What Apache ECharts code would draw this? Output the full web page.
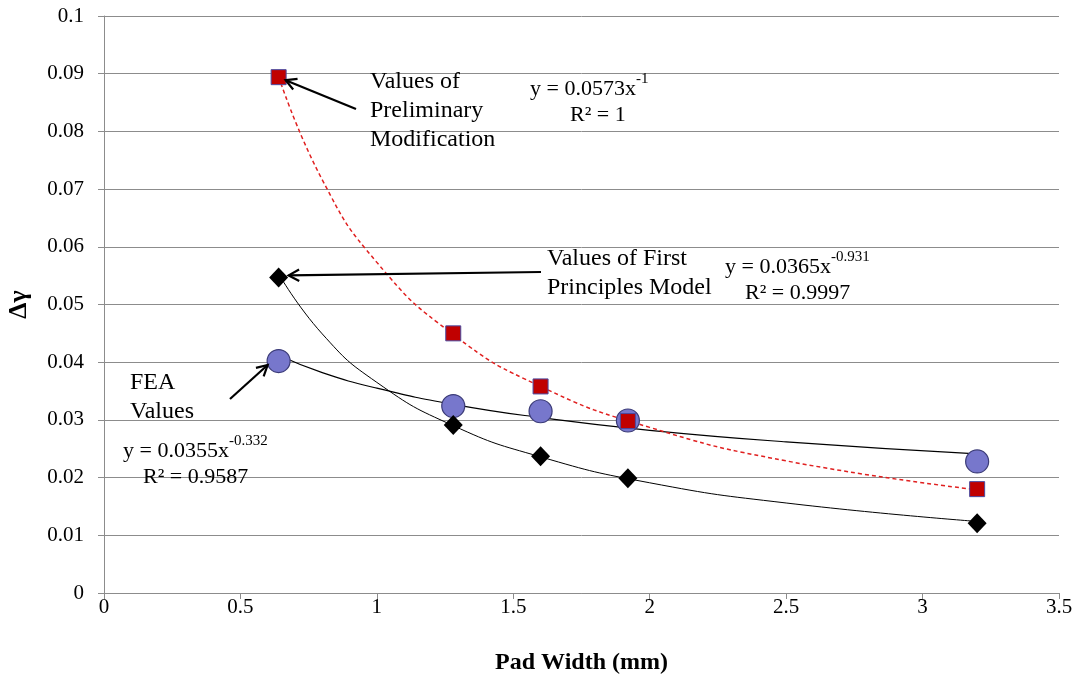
<!DOCTYPE html>
<html><head><meta charset="utf-8">
<script src="https://cdn.jsdelivr.net/npm/echarts@6/dist/echarts.min.js"></script>
<style>html,body{margin:0;padding:0;background:#fff}#c{width:1076px;height:676px}</style>
</head><body><div id="c"></div>
<script>
// Data
const padWidth = [0.64, 1.28, 1.6, 1.92, 3.2];
const prelimValues = [0.0894, 0.0450, 0.0358, 0.0298, 0.0180];
const firstPrincValues = [0.0547, 0.0291, 0.0237, 0.0199, 0.0121];
const feaValues = [0.0402, 0.0324, 0.0315, 0.0299, 0.0228];
// Trendline points
const trendX = [0.64, 0.8, 1.0, 1.28, 1.6, 2.0, 2.5, 3.2];
const prelimTrend = [0.0895, 0.0716, 0.0573, 0.0448, 0.0358, 0.0287, 0.0229, 0.0179];
const firstPrincTrend = [0.0553, 0.0449, 0.0365, 0.0290, 0.0236, 0.0191, 0.0156, 0.0124];
const feaTrend = [0.0412, 0.0382, 0.0355, 0.0327, 0.0304, 0.0282, 0.0262, 0.0241];

const pairs = (xs, ys) => xs.map((x, i) => [x, ys[i]]);
const serif = '"Liberation Serif", "Times New Roman", serif';
const chart = echarts.init(document.getElementById('c'));
const gridColor = '#8c8c8c';

chart.setOption({
  animation: false,
  grid: {left: 104, right: 17, top: 16, bottom: 83, containLabel: false, outerBoundsMode: 'none'},
  xAxis: {
    type: 'value', min: 0, max: 3.5, interval: 0.5,
    name: 'Pad Width (mm)', nameLocation: 'middle', nameGap: 58,
    nameTextStyle: {fontFamily: serif, fontWeight: 'bold', fontSize: 24, color: '#000'},
    axisLine: {show: true, onZero: false, lineStyle: {color: gridColor}},
    axisTick: {show: true, inside: false, length: 6, lineStyle: {color: gridColor}},
    axisLabel: {fontFamily: serif, fontSize: 21, color: '#000', margin: 4},
    splitLine: {show: false}
  },
  yAxis: {
    type: 'value', min: 0, max: 0.1, interval: 0.01,
    name: 'Δγ', nameLocation: 'middle', nameGap: 72,
    nameTextStyle: {fontFamily: serif, fontWeight: 'bold', fontSize: 26, color: '#000'},
    axisLine: {show: true, lineStyle: {color: gridColor}},
    axisTick: {show: true, inside: false, length: 6, lineStyle: {color: gridColor}},
    axisLabel: {fontFamily: serif, fontSize: 21, color: '#000', margin: 20,
      formatter: v => String(parseFloat(v.toFixed(3)))},
    splitLine: {show: true, lineStyle: {color: gridColor, width: 1}}
  },
  series: [
    {type: 'line', data: pairs(trendX, feaTrend), smooth: 0.5, showSymbol: false,
      lineStyle: {color: '#000', width: 1.2}, z: 2},
    {type: 'line', data: pairs(trendX, firstPrincTrend), smooth: 0.5, showSymbol: false,
      lineStyle: {color: '#000', width: 1}, z: 2},
    {type: 'line', data: pairs(trendX, prelimTrend), smooth: 0.5, showSymbol: false,
      lineStyle: {color: '#e02020', width: 1.5, type: [4, 3]}, z: 3},
    {name: 'FEA Values', type: 'scatter', data: pairs(padWidth, feaValues), symbol: 'circle', symbolSize: 23,
      itemStyle: {color: '#7777cc', borderColor: '#3c3c78', borderWidth: 1.2, opacity: 1}, z: 4},
    {name: 'First Principles', type: 'scatter', data: pairs(padWidth, firstPrincValues), symbol: 'diamond', symbolSize: [19, 20],
      itemStyle: {color: '#000', opacity: 1}, z: 5},
    {name: 'Preliminary', type: 'scatter', data: pairs(padWidth, prelimValues), symbol: 'rect', symbolSize: 15,
      itemStyle: {color: '#c00000', borderColor: '#4a4aa0', borderWidth: 1, opacity: 1}, z: 6}
  ]
});

function arrow(x1, y1, x2, y2) {
  const ang = Math.atan2(y2 - y1, x2 - x1), h = 12, w = 0.5;
  const a1 = [x2 - h * Math.cos(ang - w), y2 - h * Math.sin(ang - w)];
  const a2 = [x2 - h * Math.cos(ang + w), y2 - h * Math.sin(ang + w)];
  return [
    {type: 'polyline', shape: {points: [[x1, y1], [x2, y2]]}, style: {stroke: '#000', lineWidth: 2.2}, z: 20},
    {type: 'polyline', shape: {points: [a1, [x2, y2], a2]}, style: {stroke: '#000', lineWidth: 2.2, fill: null}, z: 20}
  ];
}
function txt(x, y, text, size) {
  return {type: 'text', x: x, y: y, z: 20,
    style: {text: text, font: size + 'px ' + serif, fill: '#000', lineHeight: 29}};
}
const supRich = {
  m: {fontFamily: serif, fontSize: 22, fill: '#000', lineHeight: 28, verticalAlign: 'bottom'},
  s: {fontFamily: serif, fontSize: 15, fill: '#000', lineHeight: 28, verticalAlign: 'top'}
};
const p0 = chart.convertToPixel({gridIndex: 0}, [padWidth[0], prelimValues[0]]);
const p1 = chart.convertToPixel({gridIndex: 0}, [padWidth[0], firstPrincValues[0]]);
const p2 = chart.convertToPixel({gridIndex: 0}, [padWidth[0], feaValues[0]]);
const g = [];
g.push(...arrow(356, 109, p0[0] + 7, p0[1] + 3));
g.push(...arrow(541, 272, p1[0] + 10, p1[1] - 2));
g.push(...arrow(230, 399, p2[0] - 11, p2[1] + 4));
g.push(txt(370, 67, 'Values of\nPreliminary\nModification', 24));
g.push(txt(547, 244, 'Values of First\nPrinciples Model', 24));
g.push(txt(130, 368, 'FEA\nValues', 24));
g.push({type: 'text', x: 530, y: 72, z: 20, style: {text: '{m|y = 0.0573x}{s|-1}', rich: supRich}});
g.push(txt(570, 101, 'R² = 1', 22));
g.push({type: 'text', x: 725, y: 250, z: 20, style: {text: '{m|y = 0.0365x}{s|-0.931}', rich: supRich}});
g.push(txt(745, 279, 'R² = 0.9997', 22));
g.push({type: 'text', x: 123, y: 434, z: 20, style: {text: '{m|y = 0.0355x}{s|-0.332}', rich: supRich}});
g.push(txt(143, 463, 'R² = 0.9587', 22));
chart.setOption({graphic: g});
</script></body></html>
